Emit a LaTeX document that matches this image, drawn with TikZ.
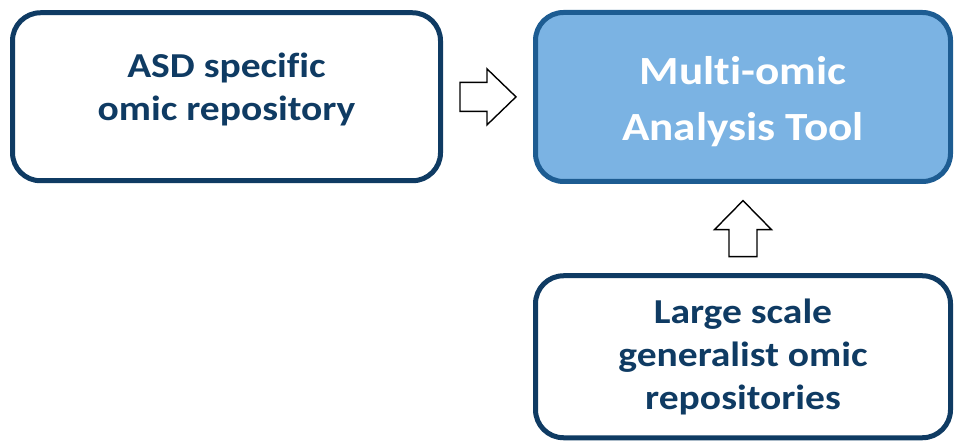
\documentclass[tikz,border=0pt]{standalone}
\usepackage{fontspec}
\setmainfont[Ligatures=CommonOff, FakeStretch=1.13]{Carlito}
\usetikzlibrary{calc}
\definecolor{navy}{HTML}{0F3B63}
\definecolor{toolfill}{HTML}{7BB3E3}
\definecolor{toolline}{HTML}{1D5C92}
\begin{document}
\begin{tikzpicture}[x=1pt, y=-1pt,
    every node/.style = {shape=rectangle, rounded corners=28pt,
      line width=5pt, align=center, font=\bfseries},
    repobox/.style = {draw=navy, fill=white, text=navy,
      font=\bfseries\fontsize{35}{43}\selectfont},
    toolbox/.style = {draw=toolline, fill=toolfill, text=white,
      font=\bfseries\fontsize{40}{56}\selectfont},
    blockarrow/.style = {draw=black, fill=white, line width=1.4pt, line join=miter}]
  \useasboundingbox (0,0) rectangle (955,443);
  \node[repobox, minimum width=428pt, minimum height=168pt] (asd) at (226.5,96.75)
    {ASD specific\\omic repository\rule[-20pt]{0pt}{0pt}};
  \node[toolbox, minimum width=415pt, minimum height=169pt] (tool) at (743,97)
    {\rule{0pt}{38pt}Multi-omic\\Analysis Tool};
  \node[repobox, minimum width=415pt, minimum height=162pt] (large) at (743,356.75)
    {Large scale\\generalist omic\\repositories};
  % block arrows between the boxes
  \coordinate (r) at ($(asd.east)!0.5!(tool.west)$);
  \coordinate (u) at ($(tool.south)!0.5!(large.north)$);
  \draw[blockarrow, shift={(r)}] (-28,-14.5) -- (-1,-14.5) -- (-1,-28) -- (28,0)
    -- (-1,28) -- (-1,14.5) -- (-28,14.5) -- cycle;
  \draw[blockarrow, shift={(u)}] (-14,28) -- (-14,1) -- (-28.5,1) -- (0,-28)
    -- (28.5,1) -- (14,1) -- (14,28) -- cycle;
\end{tikzpicture}
\end{document}
